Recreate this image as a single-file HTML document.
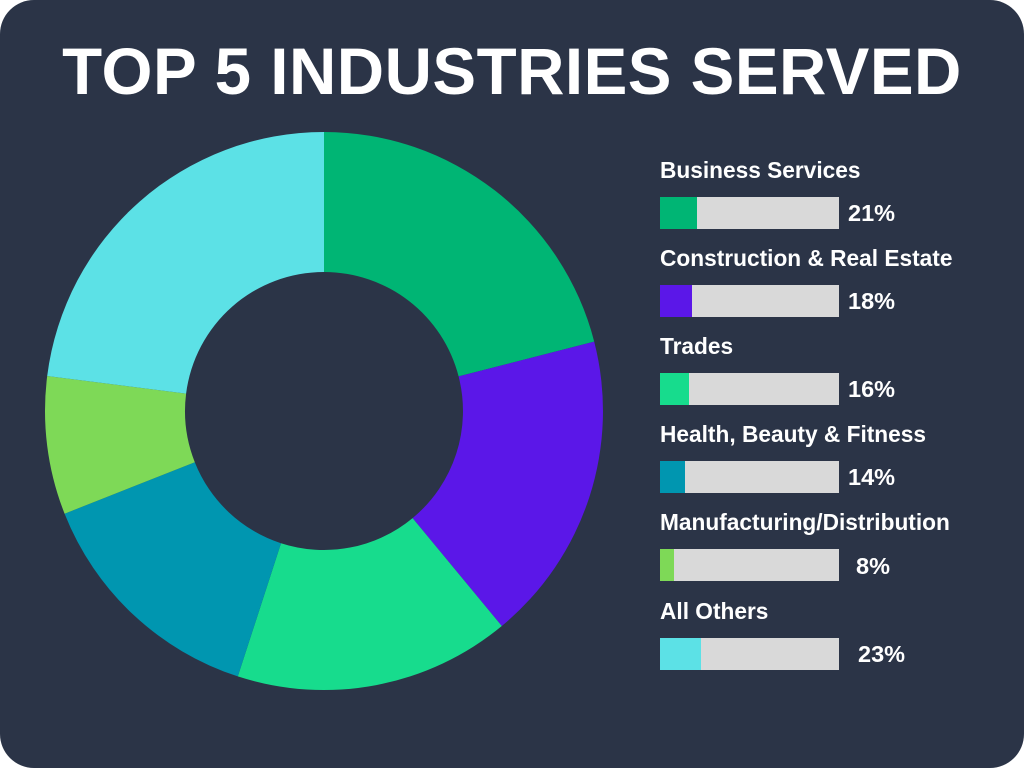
<!DOCTYPE html>
<html><head><style>
html,body{margin:0;padding:0;background:#fff;}
.card{position:absolute;left:0;top:0;width:1024px;height:768px;background:#2B3447;border-radius:34px;overflow:hidden;font-family:"Liberation Sans",Arial,sans-serif;color:#fff;}
.title{position:absolute;left:0;width:1024px;top:35px;text-align:center;font-size:65.5px;font-weight:bold;letter-spacing:0.5px;line-height:74px;}
.lbl{position:absolute;left:660px;font-size:22.7px;font-weight:bold;line-height:24px;}
.bar{position:absolute;left:660px;width:179px;height:32px;background:#D9D9D9;}
.bar div{height:100%;}
.pct{position:absolute;font-size:23.5px;font-weight:bold;line-height:24px;}
</style></head><body>
<div class="card">
<div class="title">TOP 5 INDUSTRIES SERVED</div>
<svg width="1024" height="768" style="position:absolute;left:0;top:0">
<path d="M324,132 A279,279 0 0 1 594.2,341.6 L458.6,376.4 A139,139 0 0 0 324,272 Z" fill="#00B574"/>
<path d="M594.2,341.6 A279,279 0 0 1 501.8,626.0 L412.6,518.1 A139,139 0 0 0 458.6,376.4 Z" fill="#5B17E8"/>
<path d="M501.8,626.0 A279,279 0 0 1 237.8,676.4 L281.0,543.2 A139,139 0 0 0 412.6,518.1 Z" fill="#17DC8D"/>
<path d="M237.8,676.4 A279,279 0 0 1 64.6,513.7 L194.8,462.2 A139,139 0 0 0 281.0,543.2 Z" fill="#0096B0"/>
<path d="M64.6,513.7 A279,279 0 0 1 47.2,376.0 L186.1,393.6 A139,139 0 0 0 194.8,462.2 Z" fill="#7ED957"/>
<path d="M47.2,376.0 A279,279 0 0 1 324,132 L324,272 A139,139 0 0 0 186.1,393.6 Z" fill="#5CE1E6"/>
</svg>
<div class="lbl" style="top:158px">Business Services</div>
<div class="bar" style="top:197px"><div style="width:37px;background:#00B574"></div></div>
<div class="pct" style="left:848px;top:201px">21%</div>
<div class="lbl" style="top:246px">Construction &amp; Real Estate</div>
<div class="bar" style="top:285px"><div style="width:32px;background:#5B17E8"></div></div>
<div class="pct" style="left:848px;top:289px">18%</div>
<div class="lbl" style="top:334px">Trades</div>
<div class="bar" style="top:373px"><div style="width:29px;background:#17DC8D"></div></div>
<div class="pct" style="left:848px;top:377px">16%</div>
<div class="lbl" style="top:422px">Health, Beauty &amp; Fitness</div>
<div class="bar" style="top:461px"><div style="width:25px;background:#0096B0"></div></div>
<div class="pct" style="left:848px;top:465px">14%</div>
<div class="lbl" style="top:510px">Manufacturing/Distribution</div>
<div class="bar" style="top:549px"><div style="width:14px;background:#7ED957"></div></div>
<div class="pct" style="left:856px;top:554px">8%</div>
<div class="lbl" style="top:599px">All Others</div>
<div class="bar" style="top:638px"><div style="width:41px;background:#5CE1E6"></div></div>
<div class="pct" style="left:858px;top:642px">23%</div>
</div>
</body></html>
